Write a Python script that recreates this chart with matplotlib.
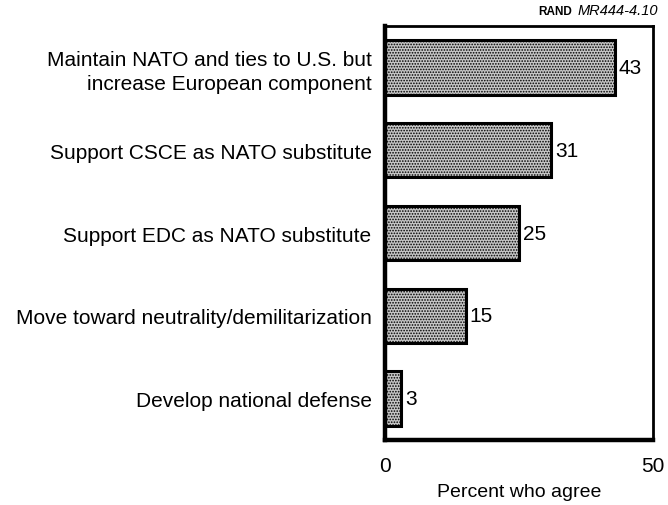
import matplotlib
matplotlib.use("Agg")
import matplotlib.pyplot as plt

plt.rcParams['font.family'] = ['Liberation Sans', 'DejaVu Sans']
plt.rcParams['hatch.color'] = '#8c8c8c'
plt.rcParams['hatch.linewidth'] = 0.8

options = [
    "Maintain NATO and ties to U.S. but\nincrease European component",
    "Support CSCE as NATO substitute",
    "Support EDC as NATO substitute",
    "Move toward neutrality/demilitarization",
    "Develop national defense",
]
percent = [43, 31, 25, 15, 3]
xticks = [0, 50]

fig = plt.figure(figsize=(6.68, 5.06), dpi=100)
ax = fig.add_axes([0.577, 0.128, 0.400, 0.819])

ypos = list(range(len(options)))
ax.barh(ypos, percent, height=0.66, color='#c6c6c6', edgecolor='black',
        linewidth=2.2, hatch='......', zorder=2)

for y, v in zip(ypos, percent):
    ax.text(v + 0.7, y, str(v), va='center', ha='left', fontsize=15)

ax.set_xlim(0, 50)
ax.set_ylim(len(options) - 0.5, -0.5)
ax.set_yticks(ypos)
ax.set_yticklabels(options, fontsize=15, linespacing=1.3)
ax.set_xticks(xticks)
ax.set_xticklabels([str(t) for t in xticks], fontsize=15)
ax.tick_params(length=0)
ax.tick_params(axis='x', pad=11)
ax.tick_params(axis='y', pad=10)
ax.set_xlabel("Percent who agree", fontsize=14, labelpad=6)

for side in ['left', 'bottom']:
    ax.spines[side].set_linewidth(3.2)
for side in ['top', 'right']:
    ax.spines[side].set_linewidth(2)
for sp in ax.spines.values():
    sp.set_zorder(3)

fig.text(0.985, 0.964, "MR444-4.10", fontsize=10.5, fontstyle='italic',
         ha='right', va='bottom')
fig.text(0.857, 0.964, "RAND", fontsize=8.5, fontweight='bold',
         ha='right', va='bottom')

fig.savefig("out.png", dpi=100)
